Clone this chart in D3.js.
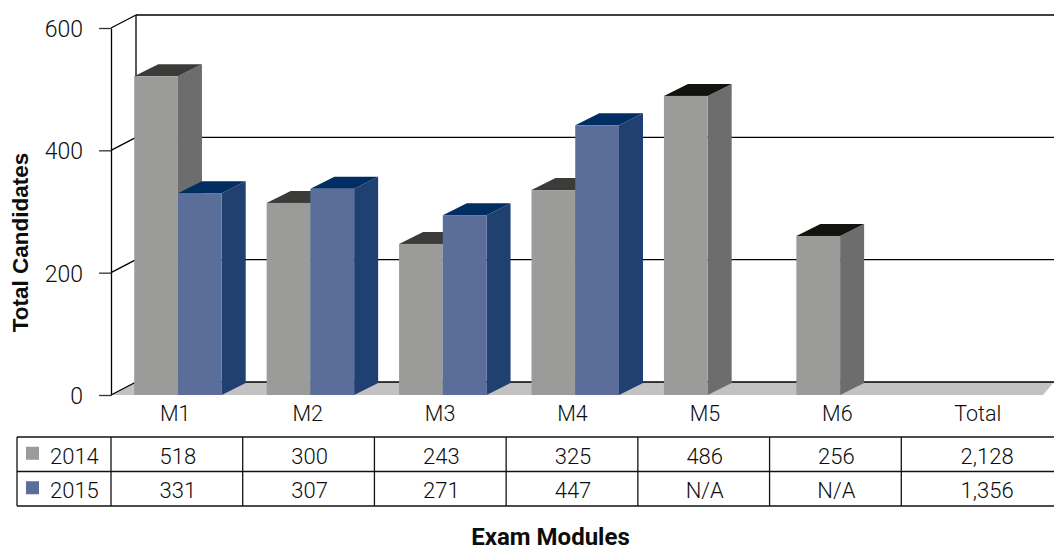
<!DOCTYPE html>
<html>
<head>
<meta charset="utf-8">
<script src="https://cdn.jsdelivr.net/npm/d3@7"></script>
<style>
  html, body { margin: 0; padding: 0; background: #fff; }
  svg { display: block; }
  text { font-family: Roboto, sans-serif; font-weight: 300; fill: #0d0d0d; }
</style>
</head>
<body>
<svg id="chart"></svg>
<script>
const categories = ['M1', 'M2', 'M3', 'M4', 'M5', 'M6', 'Total'];
const seriesNames = ['2014', '2015'];

// heights, the printed table does not always agree with them
const bars2014 = [521, 314, 247, 335, 489, 260, null];
const bars2015 = [330, 337, 294, 441, null, null, null];

// what the table under the chart prints
const table2014 = ['518', '300', '243', '325', '486', '256', '2,128'];
const table2015 = ['331', '307', '271', '447', 'N/A', 'N/A', '1,356'];

const yTicks = [0, 200, 400, 600];

const width = 1054;
const height = 546;
const depthX = 25;
const depthY = -13;
const barDepthX = 24;
const barDepthY = -12;

const svg = d3.select('#chart').attr('width', width).attr('height', height);

const x = d3.scaleBand().domain(categories).range([112, 1039]);
const y = d3.scaleLinear().domain([0, 600]).range([395, 28]);
const xSeries = d3.scaleBand().domain(seriesNames).range([-44, 43.5]);
// the table columns run slightly narrower than the plot categories
const xTable = d3.scaleBand().domain(categories).range([111, 1033]);

const colors = {
  '2014': { front: '#9b9b9a', side: '#6d6d6d', top: '#3c3b39' },
  '2015': { front: '#5a6e99', side: '#1f4071', top: '#002e62' }
};
const darkTop = '#13120e';

// floor
svg.append('polygon')
  .attr('points', [[111, y(0)], [136, y(0) + depthY], [width, y(0) + depthY], [1043, y(0)]].join(' '))
  .attr('fill', '#c2c2c2');

// back wall grid lines and the diagonals back to the axis
yTicks.forEach(v => {
  svg.append('line')
    .attr('x1', 111 + depthX).attr('x2', width)
    .attr('y1', y(v) + depthY).attr('y2', y(v) + depthY)
    .attr('stroke', '#000').attr('stroke-width', 1.3);
  svg.append('line')
    .attr('x1', 111).attr('x2', 111 + depthX)
    .attr('y1', y(v)).attr('y2', y(v) + depthY)
    .attr('stroke', '#000').attr('stroke-width', 1.3);
});
svg.append('line')
  .attr('x1', 111 + depthX).attr('x2', 111 + depthX)
  .attr('y1', y(600) + depthY).attr('y2', y(0) + depthY)
  .attr('stroke', '#000').attr('stroke-width', 1.3);

// y axis
const yAxis = svg.append('g')
  .attr('transform', 'translate(111,0)')
  .call(d3.axisLeft(y).tickValues(yTicks).tickSize(12).tickPadding(16).tickSizeOuter(0));
yAxis.select('.domain').attr('stroke', '#000').attr('stroke-width', 1.3);
yAxis.selectAll('.tick line').attr('stroke', '#333').attr('stroke-width', 1.3);
yAxis.selectAll('text').attr('y', 1).style('font-size', '23px').style('font-family', 'Roboto, sans-serif').attr('fill', '#0d0d0d');

function drawBar(category, series, value, index) {
  if (value == null) return;
  const c = colors[series];
  const x0 = x(category) + x.bandwidth() / 2 + xSeries(series);
  const w = xSeries.bandwidth();
  const top = y(value);
  const bottom = y(0);
  const g = svg.append('g').attr('class', 'bar');
  g.append('polygon')
    .attr('points', [[x0 + w, top], [x0 + w + barDepthX, top + barDepthY], [x0 + w + barDepthX, bottom + barDepthY], [x0 + w, bottom]].join(' '))
    .attr('fill', c.side);
  g.append('polygon')
    .attr('points', [[x0, top], [x0 + barDepthX, top + barDepthY], [x0 + w + barDepthX, top + barDepthY], [x0 + w, top]].join(' '))
    .attr('fill', index >= 4 ? darkTop : c.top);
  g.append('rect')
    .attr('x', x0).attr('y', top)
    .attr('width', w).attr('height', bottom - top)
    .attr('fill', c.front);
}

categories.forEach((cat, i) => {
  drawBar(cat, '2014', bars2014[i], i);
  drawBar(cat, '2015', bars2015[i], i);
});

// category labels
const xAxis = svg.append('g')
  .attr('transform', 'translate(-3,395)')
  .call(d3.axisBottom(x).tickSize(0).tickPadding(11));
xAxis.select('.domain').remove();
xAxis.selectAll('text').style('font-size', '21.5px').style('font-family', 'Roboto, sans-serif').attr('fill', '#0d0d0d');
xAxis.selectAll('.tick').filter(d => d === 'Total').select('text').attr('x', 8);

// data table
const rowLines = [437, 471.5, 506];
const colLines = [17, 111].concat(categories.slice(0, -1).map(c => xTable(c) + xTable.bandwidth()));
const tableLine = (x1, y1, x2, y2) => svg.append('line')
  .attr('x1', x1).attr('y1', y1).attr('x2', x2).attr('y2', y2)
  .attr('stroke', '#111').attr('stroke-width', 1.3);

rowLines.forEach(r => tableLine(17, r, width, r));
colLines.forEach(c => tableLine(c, rowLines[0], c, rowLines[2]));

[table2014, table2015].forEach((rowValues, r) => {
  const midY = (rowLines[r] + rowLines[r + 1]) / 2;
  svg.append('rect')
    .attr('x', 26).attr('y', midY - 7.5)
    .attr('width', 13).attr('height', 13)
    .attr('fill', colors[seriesNames[r]].front);
  svg.append('text')
    .attr('x', 50).attr('y', midY + 9.5)
    .style('font-size', '22px')
    .text(seriesNames[r]);
  rowValues.forEach((v, i) => {
    svg.append('text')
      .attr('x', xTable(categories[i]) + xTable.bandwidth() / 2 + (i === 6 ? 20 : 1))
      .attr('y', midY + 9.5)
      .attr('text-anchor', 'middle')
      .style('font-size', '22px')
      .text(v);
  });
});

// axis titles
svg.append('text')
  .attr('transform', 'translate(28,242.5) rotate(-90)')
  .attr('text-anchor', 'middle')
  .style('font-size', '22.5px').style('font-weight', 700)
  .style('font-family', '"Liberation Sans", sans-serif')
  .text('Total Candidates');
svg.append('text')
  .attr('x', 550.5).attr('y', 545)
  .attr('text-anchor', 'middle')
  .style('font-size', '24px').style('font-weight', 700)
  .text('Exam Modules');
</script>
</body>
</html>
